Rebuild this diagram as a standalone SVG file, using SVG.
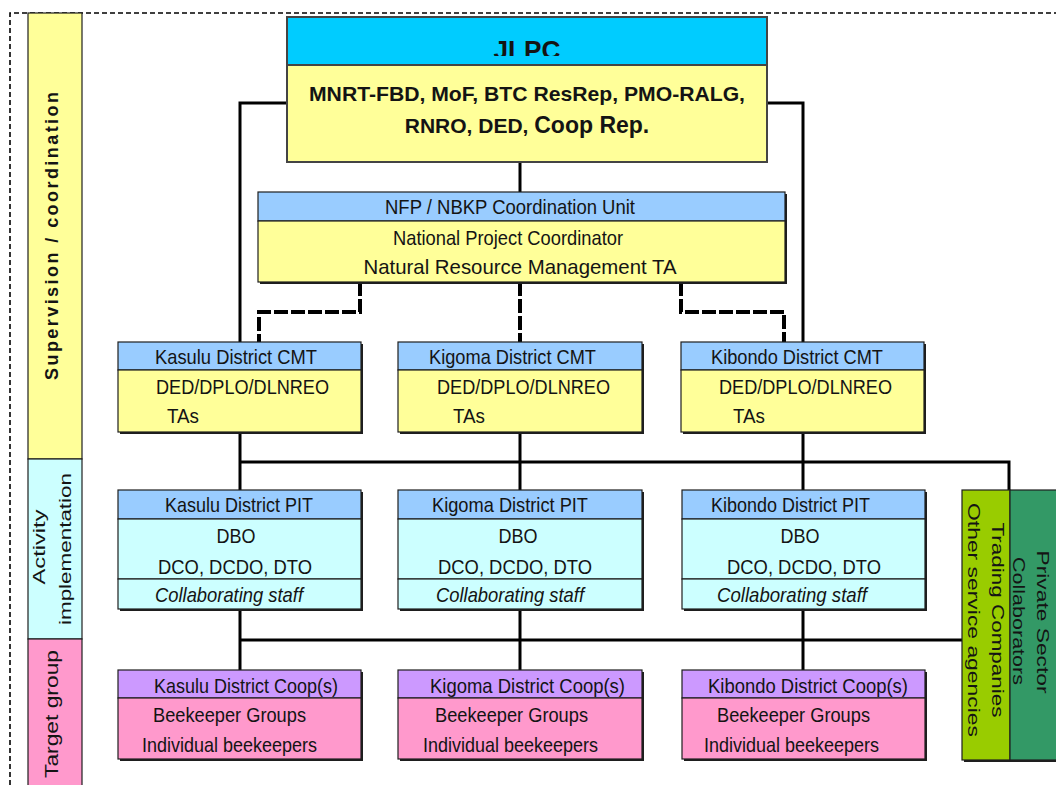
<svg xmlns="http://www.w3.org/2000/svg" width="1056" height="785" viewBox="0 0 1056 785">
<defs>
<style>
text{font-family:"Liberation Sans",Arial,sans-serif;fill:#141414}
.t{font-size:21px}
.rt{font-size:17px}
.b{font-weight:bold}
.i{font-style:italic}
.bx{stroke:#1e1e1e;stroke-width:1.2}
.sh{fill:#1e1e1e}
.hb{fill:#99CCFF}
.yl{fill:#FFFF99}
.cy{fill:#CCFFFF}
.pu{fill:#CC99FF}
.pk{fill:#FF99CC}
.ln{fill:none;stroke:#000;stroke-width:3}
.dl{fill:none;stroke:#000;stroke-width:4;stroke-dasharray:14 3}
</style>
<clipPath id="jclip"><rect x="287" y="17" width="480" height="39"/></clipPath>
</defs>
<rect x="0" y="0" width="1056" height="785" fill="#fff"/>
<path d="M10,785 V13 H1056" fill="none" stroke="#000" stroke-width="1.6" stroke-dasharray="5 3"/>

<g id="sidebar">
<rect class="bx yl" x="28" y="13" width="54" height="446"/>
<rect class="bx cy" x="28" y="459" width="54" height="180"/>
<rect class="bx pk" x="28" y="639" width="54" height="150"/>
<text class="b" font-size="18" transform="translate(58,236) rotate(-90)" text-anchor="middle" textLength="288" lengthAdjust="spacing">Supervision / coordination</text>
<text font-size="17" transform="translate(45,547) rotate(-90)" text-anchor="middle" textLength="75" lengthAdjust="spacingAndGlyphs">Activity</text>
<text font-size="17" transform="translate(71,549) rotate(-90)" text-anchor="middle" textLength="152" lengthAdjust="spacingAndGlyphs">implementation</text>
<text font-size="18" transform="translate(58,714) rotate(-90)" text-anchor="middle" textLength="128" lengthAdjust="spacingAndGlyphs">Target group</text>
</g>

<g id="connectors">
<path class="ln" d="M287,103 H240 V342"/>
<path class="ln" d="M767,103 H803 V342"/>
<path class="ln" stroke-width="2.5" d="M520,162 V192"/>
<path class="dl" d="M360,282 V312 H259 V342"/>
<path class="dl" d="M520,282 V342"/>
<path class="dl" d="M681,282 V312 H784 V342"/>
<path class="ln" d="M240,432 V490 M520,432 V490 M803,432 V490"/>
<path class="ln" d="M240,462 H1009 V490"/>
<path class="ln" d="M240,609 V670 M520,609 V670 M803,609 V670"/>
<path class="ln" stroke-width="2.5" d="M240,640 H962"/>
</g>

<g id="jlpc">
<rect x="287" y="17" width="480" height="48" fill="#00CCFF" stroke="#444" stroke-width="2"/>
<rect x="287" y="65" width="480" height="97" class="yl" stroke="#444" stroke-width="2"/>
<text class="b" font-size="26" x="527" y="59" text-anchor="middle" textLength="67" lengthAdjust="spacingAndGlyphs" clip-path="url(#jclip)">JLPC</text>
<text class="b" font-size="21" x="527" y="101" text-anchor="middle" textLength="436" lengthAdjust="spacingAndGlyphs">MNRT-FBD, MoF, BTC ResRep, PMO-RALG,</text>
<text class="b" font-size="21" x="527" y="133" text-anchor="middle">RNRO, DED, <tspan font-size="23">Coop Rep.</tspan></text>
</g>

<g id="nfp">
<rect class="sh" x="260" y="194" width="527" height="90"/>
<rect class="bx hb" x="258" y="192" width="527" height="29"/>
<rect class="bx yl" x="258" y="221" width="527" height="61"/>
<text class="t" x="510" y="214" text-anchor="middle" textLength="250" lengthAdjust="spacingAndGlyphs">NFP / NBKP Coordination Unit</text>
<text class="t" x="508" y="245" text-anchor="middle" textLength="230" lengthAdjust="spacingAndGlyphs">National Project Coordinator</text>
<text class="t" x="520" y="274" text-anchor="middle" textLength="313" lengthAdjust="spacingAndGlyphs">Natural Resource Management TA</text>
</g>

<g id="kasulu-cmt">
<rect class="sh" x="120" y="344" width="243" height="90"/>
<rect class="bx hb" x="118" y="342" width="243" height="28"/>
<rect class="bx yl" x="118" y="370" width="243" height="62"/>
<text class="t" x="155" y="364" textLength="162" lengthAdjust="spacingAndGlyphs">Kasulu District CMT</text>
<text class="t" x="156" y="394" textLength="173" lengthAdjust="spacingAndGlyphs">DED/DPLO/DLNREO</text>
<text class="t" x="167" y="423" textLength="32" lengthAdjust="spacingAndGlyphs">TAs</text>
</g>
<g id="kigoma-cmt">
<rect class="sh" x="400" y="344" width="244" height="90"/>
<rect class="bx hb" x="398" y="342" width="244" height="28"/>
<rect class="bx yl" x="398" y="370" width="244" height="62"/>
<text class="t" x="429" y="364" textLength="167" lengthAdjust="spacingAndGlyphs">Kigoma District CMT</text>
<text class="t" x="437" y="394" textLength="173" lengthAdjust="spacingAndGlyphs">DED/DPLO/DLNREO</text>
<text class="t" x="453" y="423" textLength="32" lengthAdjust="spacingAndGlyphs">TAs</text>
</g>
<g id="kibondo-cmt">
<rect class="sh" x="683" y="344" width="243" height="90"/>
<rect class="bx hb" x="681" y="342" width="243" height="28"/>
<rect class="bx yl" x="681" y="370" width="243" height="62"/>
<text class="t" x="711" y="364" textLength="172" lengthAdjust="spacingAndGlyphs">Kibondo District CMT</text>
<text class="t" x="719" y="394" textLength="173" lengthAdjust="spacingAndGlyphs">DED/DPLO/DLNREO</text>
<text class="t" x="733" y="423" textLength="32" lengthAdjust="spacingAndGlyphs">TAs</text>
</g>

<g id="kasulu-pit">
<rect class="sh" x="120" y="492" width="243" height="119"/>
<rect class="bx hb" x="118" y="490" width="243" height="29"/>
<rect class="bx cy" x="118" y="519" width="243" height="60"/>
<rect class="bx cy" x="118" y="579" width="243" height="30"/>
<text class="t" x="165" y="512" textLength="148" lengthAdjust="spacingAndGlyphs">Kasulu District PIT</text>
<text class="t" x="236" y="543" text-anchor="middle" textLength="39" lengthAdjust="spacingAndGlyphs">DBO</text>
<text class="t" x="235" y="574" text-anchor="middle" textLength="154" lengthAdjust="spacingAndGlyphs">DCO, DCDO, DTO</text>
<text class="t i" x="229" y="602" text-anchor="middle" textLength="148" lengthAdjust="spacingAndGlyphs">Collaborating staff</text>
</g>
<g id="kigoma-pit">
<rect class="sh" x="400" y="492" width="244" height="119"/>
<rect class="bx hb" x="398" y="490" width="244" height="29"/>
<rect class="bx cy" x="398" y="519" width="244" height="60"/>
<rect class="bx cy" x="398" y="579" width="244" height="30"/>
<text class="t" x="432" y="512" textLength="156" lengthAdjust="spacingAndGlyphs">Kigoma District PIT</text>
<text class="t" x="518" y="543" text-anchor="middle" textLength="39" lengthAdjust="spacingAndGlyphs">DBO</text>
<text class="t" x="515" y="574" text-anchor="middle" textLength="154" lengthAdjust="spacingAndGlyphs">DCO, DCDO, DTO</text>
<text class="t i" x="510" y="602" text-anchor="middle" textLength="148" lengthAdjust="spacingAndGlyphs">Collaborating staff</text>
</g>
<g id="kibondo-pit">
<rect class="sh" x="684" y="492" width="243" height="119"/>
<rect class="bx hb" x="682" y="490" width="243" height="29"/>
<rect class="bx cy" x="682" y="519" width="243" height="60"/>
<rect class="bx cy" x="682" y="579" width="243" height="30"/>
<text class="t" x="711" y="512" textLength="159" lengthAdjust="spacingAndGlyphs">Kibondo District PIT</text>
<text class="t" x="800" y="543" text-anchor="middle" textLength="39" lengthAdjust="spacingAndGlyphs">DBO</text>
<text class="t" x="804" y="574" text-anchor="middle" textLength="154" lengthAdjust="spacingAndGlyphs">DCO, DCDO, DTO</text>
<text class="t i" x="792" y="602" text-anchor="middle" textLength="150" lengthAdjust="spacingAndGlyphs">Collaborating staff</text>
</g>

<g id="kasulu-coop">
<rect class="sh" x="120" y="672" width="243" height="89"/>
<rect class="bx pu" x="118" y="670" width="243" height="28"/>
<rect class="bx pk" x="118" y="698" width="243" height="61"/>
<text class="t" x="154" y="693" textLength="184" lengthAdjust="spacingAndGlyphs">Kasulu District Coop(s)</text>
<text class="t" x="153" y="722" textLength="153" lengthAdjust="spacingAndGlyphs">Beekeeper Groups</text>
<text class="t" x="142" y="752" textLength="175" lengthAdjust="spacingAndGlyphs">Individual beekeepers</text>
</g>
<g id="kigoma-coop">
<rect class="sh" x="400" y="672" width="244" height="89"/>
<rect class="bx pu" x="398" y="670" width="244" height="28"/>
<rect class="bx pk" x="398" y="698" width="244" height="61"/>
<text class="t" x="430" y="693" textLength="195" lengthAdjust="spacingAndGlyphs">Kigoma District Coop(s)</text>
<text class="t" x="435" y="722" textLength="153" lengthAdjust="spacingAndGlyphs">Beekeeper Groups</text>
<text class="t" x="423" y="752" textLength="175" lengthAdjust="spacingAndGlyphs">Individual beekeepers</text>
</g>
<g id="kibondo-coop">
<rect class="sh" x="684" y="672" width="243" height="89"/>
<rect class="bx pu" x="682" y="670" width="243" height="28"/>
<rect class="bx pk" x="682" y="698" width="243" height="61"/>
<text class="t" x="708" y="693" textLength="200" lengthAdjust="spacingAndGlyphs">Kibondo District Coop(s)</text>
<text class="t" x="717" y="722" textLength="153" lengthAdjust="spacingAndGlyphs">Beekeeper Groups</text>
<text class="t" x="704" y="752" textLength="175" lengthAdjust="spacingAndGlyphs">Individual beekeepers</text>
</g>

<g id="private-sector">
<rect class="sh" x="964" y="492" width="100" height="270"/>
<rect class="bx" x="962" y="490" width="48" height="270" fill="#99CC00"/>
<rect class="bx" x="1010" y="490" width="50" height="270" fill="#339966"/>
<text class="rt" transform="translate(1037,622) rotate(90)" text-anchor="middle" textLength="143" lengthAdjust="spacingAndGlyphs">Private Sector</text>
<text class="rt" transform="translate(1013,621) rotate(90)" text-anchor="middle" textLength="128" lengthAdjust="spacingAndGlyphs">Collaborators</text>
<text class="rt" transform="translate(992,620) rotate(90)" text-anchor="middle" textLength="195" lengthAdjust="spacingAndGlyphs">Trading Companies</text>
<text class="rt" transform="translate(968,620) rotate(90)" text-anchor="middle" textLength="234" lengthAdjust="spacingAndGlyphs">Other service agencies</text>
</g>
</svg>
